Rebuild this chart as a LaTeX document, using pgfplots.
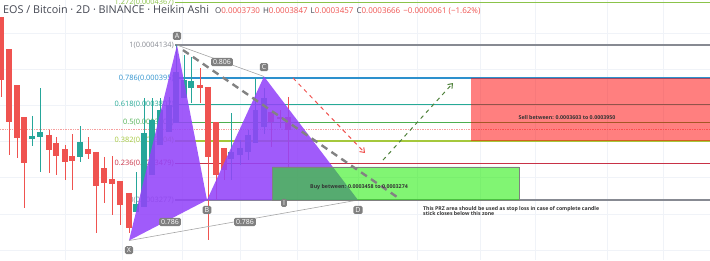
\documentclass[border=0pt]{standalone}
\usepackage{fontspec}
\setmainfont{Open Sans}
\usepackage{pgfplots}
\pgfplotsset{compat=1.18}
\usetikzlibrary{arrows.meta}

\definecolor{tvred}{RGB}{239,83,80}
\definecolor{tvteal}{RGB}{38,166,154}
\definecolor{fibgrey}{RGB}{135,138,146}
\definecolor{fibblue}{RGB}{45,145,205}
\definecolor{fibteal}{RGB}{38,170,150}
\definecolor{fibgreen}{RGB}{76,175,80}
\definecolor{fibyg}{RGB}{165,200,60}
\definecolor{fibred}{RGB}{200,50,70}
\definecolor{fiblg}{RGB}{139,195,74}
\definecolor{pat}{RGB}{147,68,249}
\definecolor{gridc}{RGB}{240,243,248}
\definecolor{lblgrey}{RGB}{128,128,128}
\definecolor{hdr}{RGB}{67,70,81}
\definecolor{buyg}{RGB}{26,237,0}
\definecolor{dashg}{RGB}{130,130,130}
\definecolor{arrg}{RGB}{80,130,60}

\begin{document}
\begin{tikzpicture}
\begin{axis}[name=ax, width=710pt, height=260pt, scale only axis,
  xmin=0, xmax=710, ymin=2.9455, ymax=4.383,
  axis line style={draw=none}, major tick length=0pt,
  xtick={65,122,182,240,297,358,417,480,535,607,663},
  ytick={3.0,3.2,3.4,3.6,3.8,4.0,4.2},
  xticklabels={}, yticklabels={},
  grid=major, grid style={gridc, line width=0.7pt},
  unbounded coords=jump, clip=true]

% current price line
\addplot[tvred!55, line width=0.7pt, densely dotted] coordinates {(0,3.666) (710,3.666)};

% fib levels
\addplot[fiblg, line width=1.2pt] coordinates {(175,4.367) (710,4.367)};
\addplot[fibgrey, line width=1.3pt] coordinates {(175,4.134) (710,4.134)};
\addplot[fibblue, line width=1.3pt] coordinates {(175,3.951) (710,3.951)};
\addplot[fibteal, line width=1.3pt] coordinates {(175,3.807) (710,3.807)};
\addplot[fibgreen, line width=1.3pt] coordinates {(175,3.705) (710,3.705)};
\addplot[fibyg, line width=1.3pt] coordinates {(175,3.604) (710,3.604)};
\addplot[fibred, line width=1.3pt] coordinates {(175,3.479) (710,3.479)};
\addplot[fibgrey, line width=1.3pt] coordinates {(175,3.277) (710,3.277)};

\tikzset{fiblbl/.style={anchor=east, inner sep=1pt, font=\fontsize{7.4}{8.5}\selectfont}}
\node[fiblbl, text=fiblg] at (axis cs:175,4.367) {1.272(0.0004367)};
\node[fiblbl, text=fibgrey] at (axis cs:175,4.134) {1(0.0004134)};
\node[fiblbl, text=fibblue] at (axis cs:175,3.951) {0.786(0.000395)};
\node[fiblbl, text=fibteal] at (axis cs:175,3.807) {0.618(0.0003807)};
\node[fiblbl, text=fibgreen] at (axis cs:175,3.705) {0.5(0.0003705)};
\node[fiblbl, text=fibyg] at (axis cs:175,3.604) {0.382(0.0003604)};
\node[fiblbl, text=fibred] at (axis cs:175,3.479) {0.236(0.0003479)};
\node[fiblbl, text=fibgrey] at (axis cs:175,3.277) {0(0.0003277)};

% candles: wicks
\addplot[tvred, line width=0.8pt] coordinates {
(1,4.289)(1,3.847)(1,nan)
(9,4.112)(9,3.526)(9,nan)
(17,3.913)(17,3.509)(17,nan)
(24,3.736)(24,3.233)(24,nan)
(49,3.664)(49,3.426)(49,nan)
(56,3.625)(56,3.415)(56,nan)
(65,3.581)(65,3.388)(65,nan)
(72,3.642)(72,3.333)(72,nan)
(88,3.625)(88,3.504)(88,nan)
(96,3.543)(96,3.095)(96,nan)
(104,3.515)(104,3.261)(104,nan)
(112,3.520)(112,3.194)(112,nan)
(120,3.382)(120,3.139)(120,nan)
(129,3.316)(129,3.095)(129,nan)
(200,4.007)(200,3.813)(200,nan)
(208,3.902)(208,3.056)(208,nan)
(216,3.708)(216,3.277)(216,nan)
(224,3.565)(224,3.388)(224,nan)
(271,3.764)(271,3.570)(271,nan)
(280,3.775)(280,3.675)(280,nan)
(288,3.847)(288,3.460)
};
\addplot[tvteal, line width=0.8pt] coordinates {
(32,3.742)(32,3.576)(32,nan)
(40,3.896)(40,3.432)(40,nan)
(80,3.686)(80,3.487)(80,nan)
(136,3.432)(136,3.211)(136,nan)
(144,3.841)(144,3.239)(144,nan)
(152,3.841)(152,3.415)(152,nan)
(160,3.841)(160,3.581)(160,nan)
(169,3.847)(169,3.653)(169,nan)
(176,4.134)(176,3.703)(176,nan)
(184,4.079)(184,3.841)(184,nan)
(191,4.068)(191,3.813)(191,nan)
(231,3.758)(231,3.388)(231,nan)
(240,3.609)(240,3.471)(240,nan)
(248,3.664)(248,3.498)(248,nan)
(255.5,3.952)(255.5,3.592)(255.5,nan)
(264,3.896)(264,3.642)
};
% candles: bodies
\addplot[tvred, line width=5.8pt] coordinates {
(1,4.289)(1,3.941)(1,nan)
(9,4.112)(9,3.708)(9,nan)
(17,3.913)(17,3.620)(17,nan)
(24,3.736)(24,3.482)(24,nan)
(49,3.637)(49,3.554)(49,nan)
(56,3.592)(56,3.520)(56,nan)
(65,3.559)(65,3.487)(65,nan)
(72,3.520)(72,3.493)(72,nan)
(88,3.559)(88,3.532)(88,nan)
(96,3.543)(96,3.355)(96,nan)
(104,3.454)(104,3.371)(104,nan)
(112,3.393)(112,3.366)(112,nan)
(120,3.382)(120,3.250)(120,nan)
(129,3.316)(129,3.122)(129,nan)
(200,3.913)(200,3.896)(200,nan)
(208,3.902)(208,3.515)(208,nan)
(216,3.708)(216,3.415)(216,nan)
(224,3.565)(224,3.443)(224,nan)
(271,3.764)(271,3.708)(271,nan)
(280,3.736)(280,3.725)(280,nan)
(288,3.736)(288,3.664)
};
\addplot[tvteal, line width=5.8pt] coordinates {
(32,3.631)(32,3.614)(32,nan)
(40,3.653)(40,3.625)(40,nan)
(80,3.598)(80,3.515)(80,nan)
(136,3.255)(136,3.211)(136,nan)
(144,3.648)(144,3.239)(144,nan)
(152,3.719)(152,3.415)(152,nan)
(160,3.775)(160,3.581)(160,nan)
(169,3.802)(169,3.653)(169,nan)
(176,3.985)(176,3.703)(176,nan)
(184,3.941)(184,3.841)(184,nan)
(191,3.935)(191,3.896)(191,nan)
(231,3.543)(231,3.504)(231,nan)
(240,3.565)(240,3.526)(240,nan)
(248,3.637)(248,3.543)(248,nan)
(255.5,3.775)(255.5,3.592)(255.5,nan)
(264,3.841)(264,3.681)
};

% harmonic pattern triangles
\addplot[draw=none, fill=pat, fill opacity=0.88] coordinates {(129,3.053) (177,4.134) (207,3.277) (129,3.053)};
\addplot[draw=none, fill=pat, fill opacity=0.88] coordinates {(207,3.277) (264,3.960) (358,3.277) (207,3.277)};
\addplot[lblgrey!70, line width=0.6pt] coordinates {(177,4.134) (264,3.960)};
\addplot[lblgrey!70, line width=0.6pt] coordinates {(129,3.053) (358,3.277)};

% sell and buy zones
\addplot[draw=none, fill=red, fill opacity=0.5] coordinates {(471,3.951) (710,3.951) (710,3.604) (471,3.604) (471,3.951)};
\addplot[draw=lblgrey, line width=0.8pt, fill=buyg, fill opacity=0.55] coordinates {(272,3.460) (519,3.460) (519,3.277) (272,3.277) (272,3.460)};

% projection lines
\addplot[dashg, line width=2.4pt, dash pattern=on 7pt off 5pt] coordinates {(183,4.106) (397,3.294)};
\addplot[tvred, line width=1pt, dash pattern=on 4pt off 4pt, -{Straight Barb[length=4pt,width=6pt]}] coordinates {(293,3.952) (365,3.537)};
\addplot[arrg, line width=1pt, dash pattern=on 4pt off 4pt, -{Straight Barb[length=4pt,width=6pt]}] coordinates {(383,3.498) (453,3.924)};

% texts in zones
\node[font=\bfseries\fontsize{5.3}{6}\selectfont, text=black!80] at (axis cs:567,3.736) {Sell between: 0.0003603 to 0.0003950};
\node[font=\bfseries\fontsize{5.3}{6}\selectfont, text=black!80] at (axis cs:359,3.349) {Buy between: 0.0003458 to 0.0003274};
\node[anchor=west, align=left, inner sep=0pt, font=\bfseries\fontsize{5.2}{5.4}\selectfont, text=black!80] at (axis cs:423,3.216) {This PRZ area should be used as stop loss in case of complete candle\\stick closes below this zone};

% point labels
\tikzset{pt/.style={fill=lblgrey, text=white, rounded corners=1.5pt, inner xsep=2pt, inner ysep=1.5pt, font=\fontsize{7}{8}\selectfont}}
\node[pt] at (axis cs:177,4.184) {A};
\node[pt] at (axis cs:264,4.012) {C};
\node[pt] at (axis cs:207,3.222) {B};
\node[pt] at (axis cs:358,3.222) {D};
\node[pt] at (axis cs:129,3.000) {X};
\node[pt] at (axis cs:284,3.261) {I};
\node[pt] at (axis cs:222,4.040) {0.806};
\node[pt] at (axis cs:170,3.156) {0.786};
\node[pt] at (axis cs:245,3.156) {0.786};

% header
\node[anchor=west, inner sep=0pt, text=hdr] at (axis cs:3,4.327)
 {\fontsize{10.8}{12}\selectfont EOS / Bitcoin · 2D · BINANCE · Heikin Ashi\hspace{6pt}\fontsize{8}{9}\selectfont
 O\textcolor{tvred}{0.0003730}\hspace{3pt}H\textcolor{tvred}{0.0003847}\hspace{3pt}L\textcolor{tvred}{0.0003457}\hspace{3pt}C\textcolor{tvred}{0.0003666\hspace{3pt}−0.0000061 (−1.62\%)}};
\end{axis}
\pgfresetboundingbox
\path[use as bounding box] (ax.south west) rectangle (ax.north east);
\end{tikzpicture}
\end{document}
